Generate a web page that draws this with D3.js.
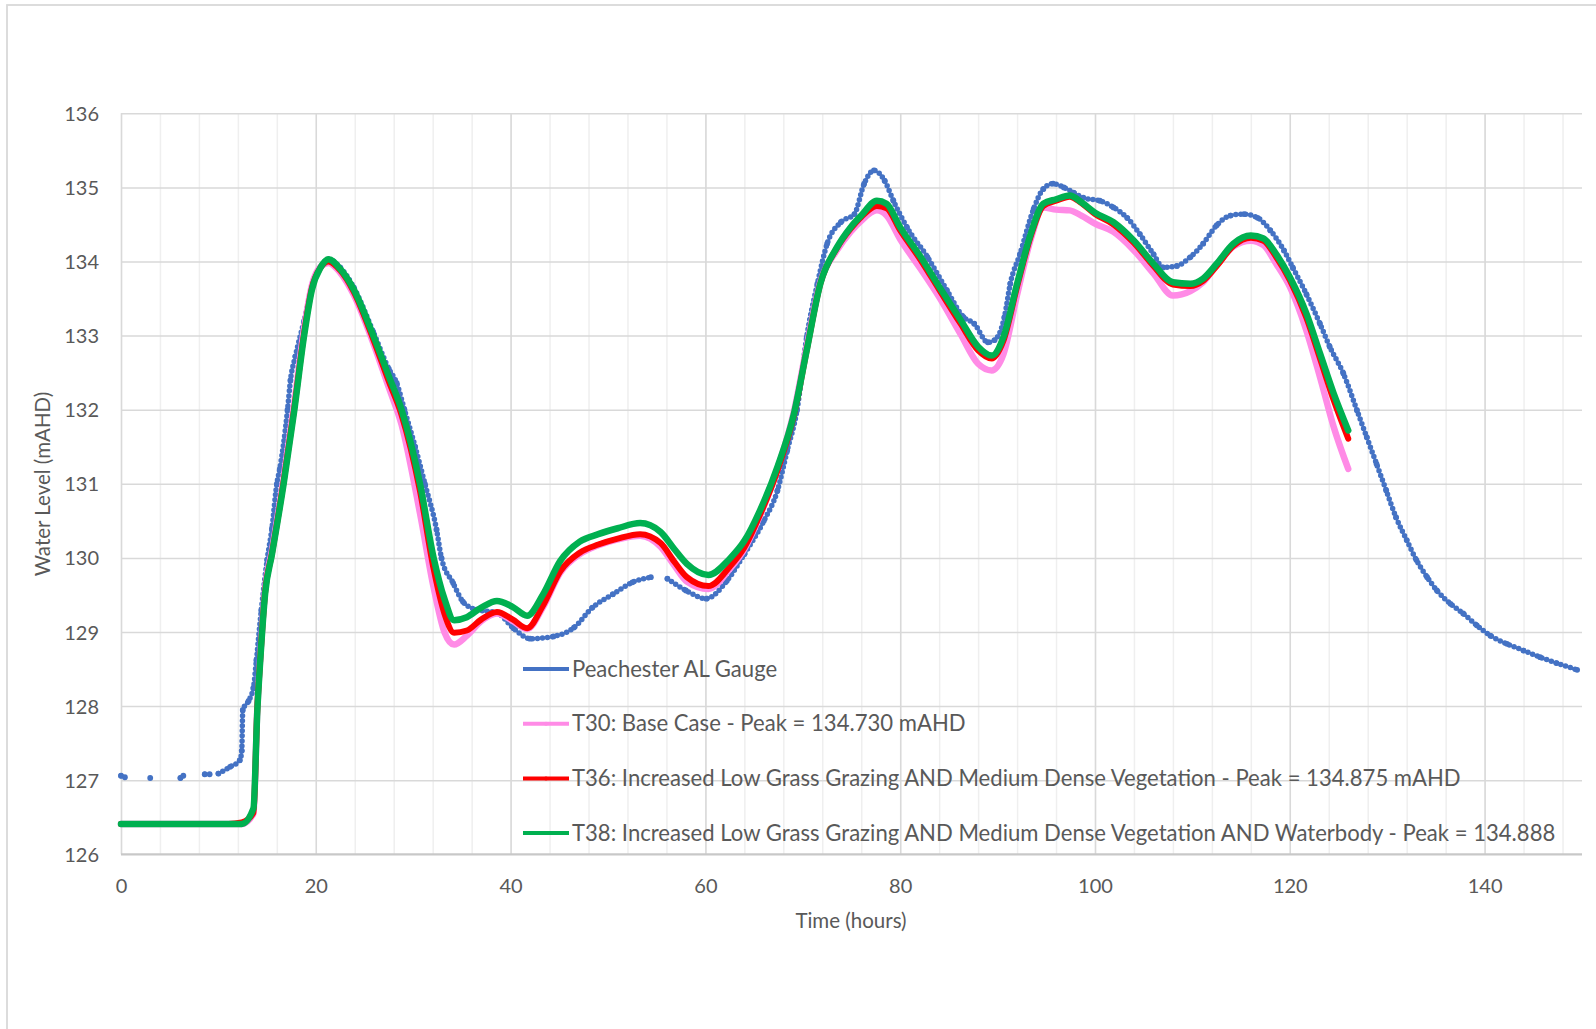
<!DOCTYPE html>
<html>
<head>
<meta charset="utf-8">
<script src="https://cdn.jsdelivr.net/npm/d3@7"></script>
<style>
  body { margin: 0; background: #fff; }
  text { font-family: Lato, "Liberation Sans", sans-serif; fill: #595959; }
</style>
</head>
<body>
<div id="chart"></div>
<script>
// Peachester AL gauge (observed); null = no reading
const gaugeTime = [0, 0.4, 1.5, 3.0, 4.5, 6.1, 6.4, 7.5, 8.6, 9.1, 9.5, 10.0, 11.2, 12.2, 12.4, 12.5, 13.1, 13.6, 13.9, 14.4,
  15.0, 15.5, 16.0, 16.3, 17.1, 17.4, 17.9, 18.8, 19.6, 20.5, 21.3, 22.5, 23.9, 25.9, 27.5, 28.3, 29.1, 30.2, 31.2, 32.4,
  32.9, 34.1, 35.1, 36.5, 38.6, 40.3, 42.0, 44.4, 46.5, 48.4, 50.5, 52.5, 54.4, 55.2, 56.1, 58, 60.1, 62.2, 64, 66,
  67.4, 68.4, 69.4, 70.4, 71.5, 72.5, 73.9, 75.3, 76.3, 77.3, 78.4, 79.3, 80.7, 82.8, 84.8, 86.5, 87.6, 89, 89.7, 90.7,
  91.3, 92.3, 93.7, 94.7, 95.7, 96.8, 97.8, 98.8, 100.5, 101.9, 103.3, 104.6, 106, 107, 108.4, 109.8, 111.1, 112.5, 113.9, 115.3,
  116.7, 118, 119.4, 120.3, 121.7, 123.1, 124.1, 125.5, 126.9, 127.9, 128.9, 129.9, 130.9, 132, 133, 134.1, 135.1, 136.5, 137.8, 139.2,
  140.6, 142.3, 144, 145.7, 147.4, 149.5];
const gaugeLevel = [127.06, 127.04, null, 127.03, null, 127.03, 127.06, null, 127.08, 127.08, null, 127.09, 127.18, 127.27, 127.4, 127.95, 128.07, 128.25, 128.62, 129.29,
  129.97, 130.4, 131.0, 131.2, 132.0, 132.4, 132.72, 133.2, 133.65, 133.93, 134.03, 133.92, 133.65, 133.05, 132.55, 132.36, 132.0, 131.5, 131.0, 130.38,
  130.0, 129.66, 129.41, 129.3, 129.26, 129.05, 128.91, 128.94, 129.06, 129.33, 129.51, 129.67, 129.74, null, 129.72, 129.56, 129.45, 129.69, 130.05, 130.5,
  130.91, 131.45, 131.99, 132.98, 133.7, 134.24, 134.53, 134.64, 135.05, 135.23, 135.09, 134.82, 134.46, 134.06, 133.61, 133.25, 133.16, 132.91, 132.94, 133.25,
  133.7, 134.1, 134.71, 134.98, 135.05, 135.0, 134.93, 134.86, 134.82, 134.73, 134.59, 134.37, 134.1, 133.92, 133.94, 134.06, 134.24, 134.49, 134.62, 134.64,
  134.59, 134.42, 134.15, 133.92, 133.56, 133.16, 132.85, 132.49, 131.99, 131.63, 131.27, 130.91, 130.55, 130.24, 129.97, 129.74, 129.56, 129.38, 129.25, 129.09,
  128.95, 128.84, 128.75, 128.66, 128.58, 128.49];

// model runs share one time base (hours)
const modelTime = [0, 4, 8, 11, 12.4, 13.6, 14.0, 14.3, 14.8, 15.5, 16.7, 17.8, 18.8, 19.6, 20.5, 21.3, 22.5, 23.9, 25.9, 27.5,
  28.8, 30.7, 32.1, 33.2, 34.2, 35.5, 37, 38.6, 40.2, 41.7, 43.3, 45.1, 47.1, 49, 51, 53.3, 55.4, 56.8, 58.1, 60.3,
  62.5, 64, 65.6, 67.4, 69.1, 70.4, 71.8, 73.5, 74.9, 76, 77.6, 78.6, 80, 82.1, 84, 86.2, 88, 89.4, 90.6, 92,
  93.4, 94.7, 96, 97.4, 98.6, 100, 101.9, 104, 106, 108, 109.8, 111.1, 112.5, 114.2, 116, 117.3, 118.6, 120, 121.7, 123.1,
  124.5, 126];
const t30Level = [126.41, 126.41, 126.41, 126.41, 126.41, 126.55, 127.98, 128.66, 129.58, 130.1, 131.08, 132.1, 133.1, 133.68, 133.93, 133.98, 133.85, 133.55, 132.9, 132.3,
  131.8, 130.6, 129.6, 129.0, 128.83, 128.95, 129.15, 129.25, 129.15, 129.04, 129.33, 129.8, 130.05, 130.17, 130.25, 130.3, 130.15, 129.9, 129.68, 129.58,
  129.85, 130.12, 130.57, 131.2, 131.98, 132.85, 133.72, 134.15, 134.4, 134.55, 134.69, 134.62, 134.3, 133.9, 133.52, 133.02, 132.62, 132.53, 132.75, 133.55,
  134.3, 134.73, 134.7, 134.69, 134.62, 134.51, 134.4, 134.15, 133.84, 133.54, 133.6, 133.72, 133.95, 134.2, 134.28, 134.22, 133.97, 133.66, 133.07, 132.44,
  131.77, 131.2];
const t36Level = [126.41, 126.41, 126.41, 126.41, 126.43, 126.56, 127.98, 128.64, 129.54, 130.06, 131.03, 132.03, 133.03, 133.64, 133.92, 134.0, 133.88, 133.59, 132.95, 132.38,
  131.93, 130.9, 129.85, 129.25, 128.99, 129.02, 129.17, 129.27, 129.17, 129.05, 129.35, 129.82, 130.07, 130.18, 130.26, 130.32, 130.2, 129.95, 129.74, 129.62,
  129.88, 130.14, 130.58, 131.18, 131.93, 132.8, 133.7, 134.18, 134.44, 134.6, 134.75, 134.72, 134.42, 134.02, 133.62, 133.16, 132.8, 132.69, 132.93, 133.66,
  134.34, 134.75, 134.82, 134.875, 134.79, 134.64, 134.5, 134.25, 133.94, 133.69, 133.67, 133.74, 133.94, 134.21, 134.32, 134.28, 134.06, 133.75, 133.24, 132.69,
  132.13, 131.61];
const t38Level = [126.41, 126.41, 126.41, 126.41, 126.41, 126.62, 127.95, 128.62, 129.52, 130.05, 131.0, 132.0, 133.0, 133.62, 133.92, 134.03, 133.9, 133.62, 133.0, 132.45,
  132.0, 131.0, 130.0, 129.45, 129.16, 129.2, 129.33, 129.42, 129.34, 129.22, 129.5, 129.96, 130.22, 130.32, 130.4, 130.47, 130.35, 130.12, 129.92, 129.77,
  129.99, 130.23, 130.64, 131.23, 131.95, 132.8, 133.7, 134.19, 134.46, 134.62, 134.82, 134.78, 134.46, 134.06, 133.66, 133.21, 132.85, 132.73, 132.98, 133.7,
  134.37, 134.78, 134.84, 134.89, 134.8, 134.66, 134.53, 134.28, 133.97, 133.72, 133.7, 133.77, 133.97, 134.24, 134.35, 134.31, 134.1, 133.79, 133.3, 132.76,
  132.22, 131.72];

const xTicks = [0, 20, 40, 60, 80, 100, 120, 140];
const yTicks = [126, 127, 128, 129, 130, 131, 132, 133, 134, 135, 136];
const seriesNames = [
  "Peachester AL Gauge",
  "T30: Base Case - Peak = 134.730 mAHD",
  "T36: Increased Low Grass Grazing AND Medium Dense Vegetation - Peak = 134.875 mAHD",
  "T38: Increased Low Grass Grazing AND Medium Dense Vegetation AND Waterbody - Peak = 134.888"
];
const seriesColors = ["#4472c4", "#ff8be6", "#ff0000", "#00b050"];

const W = 1596, H = 1029;
const plotLeft = 121, plotRight = 1582, plotTop = 113.3, plotBottom = 854.3;

const svg = d3.select("#chart").append("svg")
  .attr("width", W)
  .attr("height", H);

// chart area border (only left/top visible in the crop)
svg.append("rect")
  .attr("x", 7).attr("y", 5)
  .attr("width", 1700).attr("height", 1200)
  .attr("fill", "none")
  .attr("stroke", "#d9d9d9")
  .attr("stroke-width", 1.8);

const x = d3.scaleLinear().domain([0, 150]).range([plotLeft, plotRight]);
const y = d3.scaleLinear().domain([126, 136]).range([plotBottom, plotTop]);
const plotH = plotBottom - plotTop, plotW = plotRight - plotLeft;

// minor vertical grid every 4 h
svg.append("g")
  .attr("transform", `translate(0,${plotBottom})`)
  .call(d3.axisBottom(x).tickValues(d3.range(0, 150, 4)).tickSize(-plotH).tickFormat(""))
  .call(g => g.select(".domain").remove())
  .call(g => g.selectAll("line").attr("stroke", "#efefef").attr("stroke-width", 1.5));

// major vertical grid
svg.append("g")
  .attr("transform", `translate(0,${plotBottom})`)
  .call(d3.axisBottom(x).tickValues(xTicks).tickSize(-plotH).tickFormat(""))
  .call(g => g.select(".domain").remove())
  .call(g => g.selectAll("line").attr("stroke", "#d9d9d9").attr("stroke-width", 1.5));

// horizontal grid
svg.append("g")
  .attr("transform", `translate(${plotLeft},0)`)
  .call(d3.axisLeft(y).tickValues(yTicks).tickSize(-plotW).tickFormat(""))
  .call(g => g.select(".domain").remove())
  .call(g => g.selectAll("line").attr("stroke", "#d9d9d9").attr("stroke-width", 1.5));

// bottom axis line
svg.append("line")
  .attr("x1", plotLeft).attr("x2", plotRight)
  .attr("y1", plotBottom).attr("y2", plotBottom)
  .attr("stroke", "#c8c8c8").attr("stroke-width", 2);

// tick labels
const xAxis = svg.append("g")
  .attr("transform", `translate(0,${plotBottom})`)
  .call(d3.axisBottom(x).tickValues(xTicks).tickSize(0).tickPadding(0));
xAxis.select(".domain").remove();
xAxis.selectAll("text")
  .attr("y", 32)
  .attr("dy", "0.35em")
  .attr("fill", null)
  .style("font-size", "20px");

const yAxis = svg.append("g")
  .attr("transform", `translate(${plotLeft},0)`)
  .call(d3.axisLeft(y).tickValues(yTicks).tickSize(0).tickPadding(0));
yAxis.select(".domain").remove();
yAxis.selectAll("text")
  .attr("x", 99 - plotLeft)
  .attr("dy", "0.35em")
  .attr("fill", null)
  .style("font-size", "20px");
svg.selectAll(".tick text").style("font-family", "Lato, sans-serif");

// axis titles
svg.append("text")
  .attr("transform", "translate(43,484) rotate(-90)")
  .attr("text-anchor", "middle")
  .attr("dy", "0.35em")
  .style("font-size", "20.5px")
  .text("Water Level (mAHD)");

svg.append("text")
  .attr("x", 851).attr("y", 921)
  .attr("text-anchor", "middle")
  .attr("dy", "0.35em")
  .style("font-size", "20.5px")
  .text("Time (hours)");

// series
const toPoints = (ts, vs) => ts.map((t, i) => ({ t: t, v: vs[i] }));
const line = d3.line()
  .defined(d => d.v != null)
  .x(d => x(d.t))
  .y(d => y(d.v))
  .curve(d3.curveMonotoneX);

const plot = svg.append("g");

const gauge = toPoints(gaugeTime, gaugeLevel);
plot.append("path")
  .datum(gauge)
  .attr("d", line)
  .attr("fill", "none")
  .attr("stroke", seriesColors[0])
  .attr("stroke-width", 5.5)
  .attr("stroke-linecap", "round")
  .attr("stroke-dasharray", "0 5");
plot.append("g").selectAll("circle")
  .data(gauge.filter(d => d.v != null))
  .enter().append("circle")
  .attr("cx", d => x(d.t))
  .attr("cy", d => y(d.v))
  .attr("r", 2.9)
  .attr("fill", seriesColors[0]);

const models = [
  { level: t30Level, color: seriesColors[1], width: 6.5 },
  { level: t36Level, color: seriesColors[2], width: 6 },
  { level: t38Level, color: seriesColors[3], width: 6.5 }
];
models.forEach(m => {
  plot.append("path")
    .datum(toPoints(modelTime, m.level))
    .attr("d", line)
    .attr("fill", "none")
    .attr("stroke", m.color)
    .attr("stroke-width", m.width)
    .attr("stroke-linejoin", "round")
    .attr("stroke-linecap", "round");
});

// legend
const legend = svg.append("g").selectAll("g")
  .data(seriesNames)
  .enter().append("g")
  .attr("transform", (d, i) => `translate(523,${669 + i * 54.7})`);

legend.append("line")
  .attr("x1", 0).attr("x2", 46)
  .attr("stroke", (d, i) => seriesColors[i])
  .attr("stroke-width", 4);
legend.append("circle")
  .attr("cx", 23).attr("r", 2)
  .attr("fill", (d, i) => seriesColors[i]);
legend.append("text")
  .attr("x", 49)
  .attr("dy", "0.35em")
  .style("font-size", "22.1px")
  .text(d => d);
</script>
</body>
</html>
